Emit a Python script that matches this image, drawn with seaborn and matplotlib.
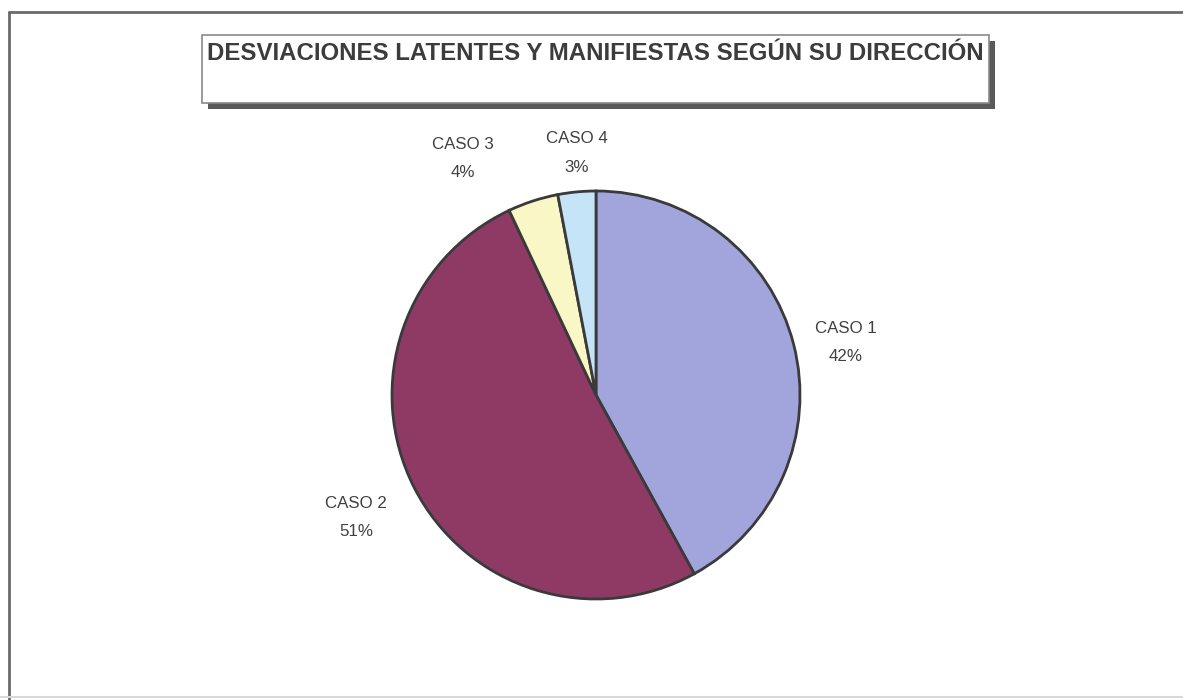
import matplotlib
matplotlib.use("Agg")
import matplotlib.pyplot as plt
import seaborn as sns
import numpy as np
from matplotlib.patches import Rectangle
from matplotlib.lines import Line2D

categories = ["CASO 1", "CASO 2", "CASO 3", "CASO 4"]
values = [42, 51, 4, 3]
pct_labels = ["42%", "51%", "4%", "3%"]
colors = ["#a2a5dc", "#8f3a64", "#faf7c6", "#c6e4f7"]
title = "DESVIACIONES LATENTES Y MANIFIESTAS SEGÚN SU DIRECCIÓN"

sns.set_theme(style="white")
plt.rcParams['font.family'] = ['Liberation Sans', 'DejaVu Sans']

W, H = 1183, 700
fig = plt.figure(figsize=(W / 100, H / 100), dpi=100)
fig.patch.set_facecolor("white")

# pie axes: center (596,395) px, radius 204 px, limits +-1.5
R = 204
cx, cy = 596, 395
half = 1.5 * R
ax = fig.add_axes([(cx - half) / W, (H - cy - half) / H, 2 * half / W, 2 * half / H])
wedges, _ = ax.pie(values, colors=colors, startangle=90, counterclock=False,
                   wedgeprops=dict(edgecolor="#3a3a3a", linewidth=2.0))
ax.set_xlim(-1.5, 1.5)
ax.set_ylim(-1.5, 1.5)
ax.set_aspect("equal")
ax.axis("off")

# label placement: (angle deg, distance in radii) tuned per slice like Excel's
label_angle = [11.9, -152.9, 119.5, 94.5]
label_dist = [1.25, 1.32, 1.33, 1.19]
for cat, pct, a, d in zip(categories, pct_labels, label_angle, label_dist):
    ax.text(d * np.cos(np.radians(a)), d * np.sin(np.radians(a)), f"{cat}\n{pct}",
            ha="center", va="center", fontsize=12.2, color="#404040", linespacing=2.1)

# outer frame (left and top visible, faint bottom)
fig.add_artist(Line2D([9 / W, 9 / W], [0, 1 - 12 / H], transform=fig.transFigure,
                      color="#6a6a6a", linewidth=2))
fig.add_artist(Line2D([9 / W, 1], [1 - 12 / H, 1 - 12 / H], transform=fig.transFigure,
                      color="#6a6a6a", linewidth=2))
fig.add_artist(Line2D([0, 1], [1 - 697 / H, 1 - 697 / H], transform=fig.transFigure,
                      color="#d8d8d8", linewidth=1.5))

# title box with shadow
bx0, by0, bx1, by1 = 202, 35, 989, 103
fig.add_artist(Rectangle(((bx0 + 6) / W, 1 - (by1 + 6) / H), (bx1 - bx0) / W, (by1 - by0) / H,
                         transform=fig.transFigure, facecolor="#5a5a5a", edgecolor="none"))
fig.add_artist(Rectangle((bx0 / W, 1 - by1 / H), (bx1 - bx0) / W, (by1 - by0) / H,
                         transform=fig.transFigure, facecolor="white", edgecolor="#8a8a8a",
                         linewidth=1.2))
fig.text(207 / W, 1 - 54 / H, title, ha="left", va="center", fontsize=17.25,
         fontweight="bold", color="#3c3c3c")

fig.savefig("out.png", dpi=100)
